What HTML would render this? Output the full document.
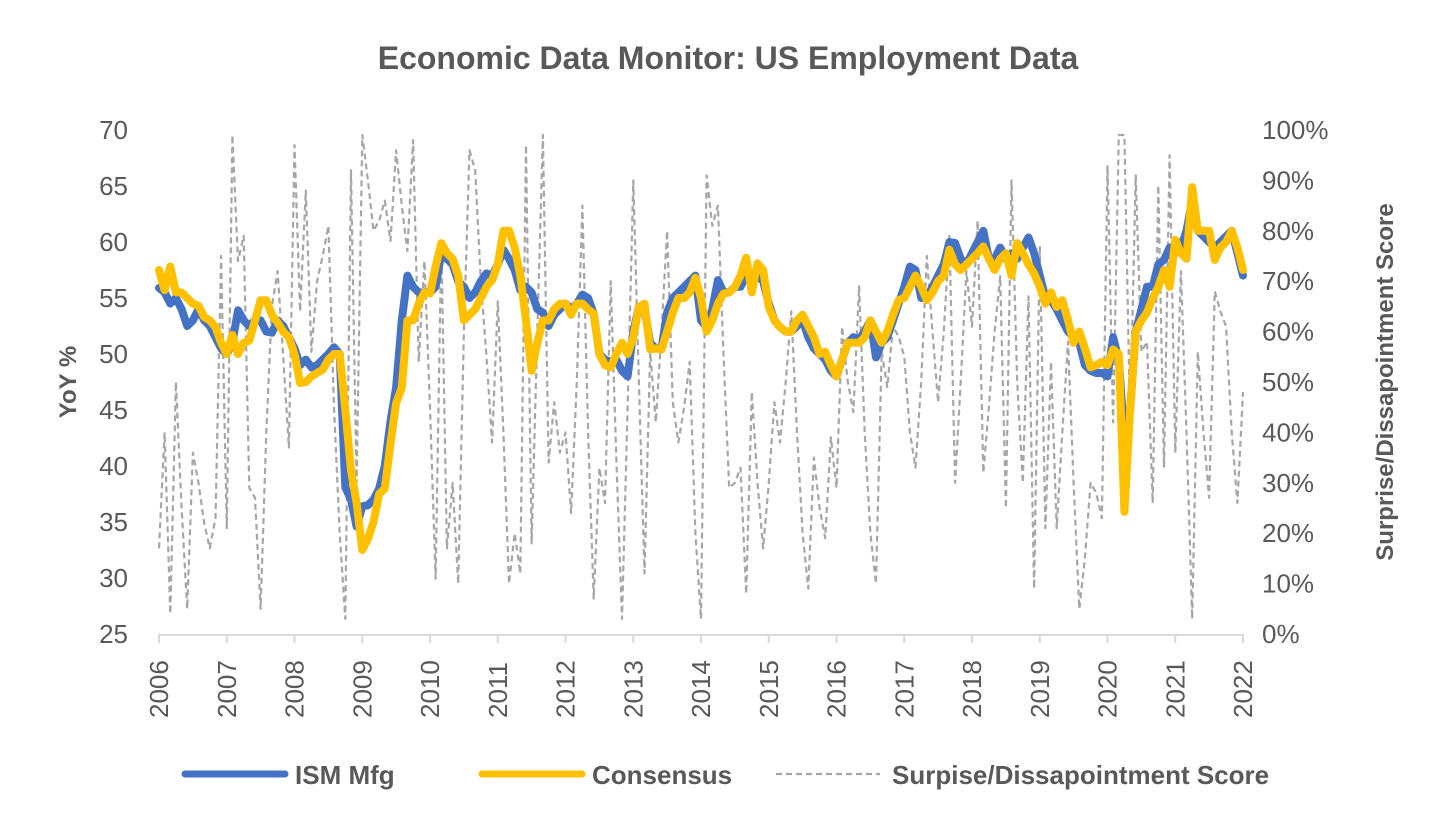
<!DOCTYPE html>
<html><head><meta charset="utf-8">
<style>
body{margin:0;background:#fff;}
svg text{font-family:"Liberation Sans",sans-serif;fill:#595959;}
</style></head>
<body>
<svg id="chart" width="1456" height="829" viewBox="0 0 1456 829" xmlns="http://www.w3.org/2000/svg">
<rect width="1456" height="829" fill="#fff"/>
<text x="728" y="69" text-anchor="middle" font-size="32" font-weight="bold">Economic Data Monitor: US Employment Data</text>
<g id="axes"></g>
<g id="series"></g>
<text transform="translate(76,382) rotate(-90)" text-anchor="middle" font-size="24" font-weight="bold">YoY %</text>
<text transform="translate(1393,382) rotate(-90)" text-anchor="middle" font-size="24" font-weight="bold">Surprise/Dissapointment Score</text>
<g>
  <g>
    <line x1="185" y1="774" x2="285" y2="774" stroke="#4472c4" stroke-width="7" stroke-linecap="round"/>
    <text x="295" y="784" font-size="26" font-weight="bold">ISM Mfg</text>
  </g>
  <g>
    <line x1="482" y1="774" x2="582" y2="774" stroke="#ffc000" stroke-width="7" stroke-linecap="round"/>
    <text x="592" y="784" font-size="26" font-weight="bold">Consensus</text>
  </g>
  <g>
    <line x1="776" y1="774" x2="880" y2="774" stroke="#a6a6a6" stroke-width="2.2" stroke-dasharray="6,4"/>
    <text x="892" y="784" font-size="26" font-weight="bold">Surpise/Dissapointment Score</text>
  </g>
</g>
</svg>
<script>
const years = [2006,2007,2008,2009,2010,2011,2012,2013,2014,2015,2016,2017,2018,2019,2020,2021,2022];
const leftTicks = [25,30,35,40,45,50,55,60,65,70];
const rightTicks = [0,10,20,30,40,50,60,70,80,90,100];
const ismValues = [
55.9,55.5,54.5,55,54,52.5,53,54,53,52.5,51.5,50.5,
50,51,53.9,53,52.5,53,53,52,51.9,53,52.5,51.5,
50.5,49,49.5,48.8,49,49.5,50,50.6,50,38.1,37,34.6,
36.4,36.5,37,38,40,44,47,53,57,56,55.5,55.5,
55.5,56,59,58.5,58,56.5,56,55,55.5,56.5,57.2,57,
58,59.3,58.5,57.5,55.7,56,55.5,54,53.7,52.5,53.5,54,
54.5,54,54.5,55.3,55,53.6,50,49.5,49.3,49.5,48.5,48,
52,54.2,54,51,50.5,50.5,53.7,55,55.5,56,56.5,57,
53,52.4,54,56.6,55.5,55.5,56,56,57,56.5,57,56.5,
54.5,53,52.4,52,52,52.5,53,51.5,50.5,50,49.5,48.5,
48,49.5,51,51.5,51.3,52,53,49.7,51,51.5,53,54.5,
56,57.8,57.5,55,55,56,57,58,60,59.9,58.5,58,
59,60,61,58.5,58.5,59.5,58.5,59,58.5,59.5,60.4,59,
57,55,54.8,54,53,52,51.5,51,49,48.5,48.3,48.3,
48,51.5,49.5,42.3,45,52,54,56,56,58,58.4,59.5,
59,59.5,61,63.75,61,60.5,60,59.5,60,60.5,61,59,
57];
const consensusValues = [
57.5,55.7,57.8,55.5,55.5,55,54.5,54.3,53.3,53,52.4,51,
50,51.7,50,51,51.2,53,54.8,54.8,53.5,52.8,52,51.5,
50,47.4,47.5,48,48.3,48.6,49.5,50,50,45,39.6,36.7,
32.5,33.5,35,37.5,38,42,45.6,47,53,53,54.5,55.5,
55.4,57.8,59.9,59,58.5,57,53,53.5,54,55,56,56.6,
58,61,61,59.5,57,53,48.5,51,53,53,54,54.5,
54.5,53.5,54.5,54.5,54,53.6,50,49,48.8,50,51,50,
51.5,54.2,54.5,50.4,50.5,50.4,52,53.7,55,55,55.5,56.8,
55,52,53,54.5,55.4,55.5,56,57,58.6,55.5,58.1,57.5,
54.2,53,52.4,52,52,53,53.5,52.5,51.5,50,50.2,49,
48,49.5,51,51,51,51.5,53,52,51,52,53.5,54.8,
55,56,57,56,54.8,55.5,56.5,57,59.3,58,57.5,58,
58.5,59,59.6,58.5,57.5,58.5,59,57,59.9,59,58,57.2,
56,54.5,55.5,54.2,54.8,53,51,52,50.5,48.8,49,49.3,
49,50.4,50,35.9,45,52,53,53.7,55,56,57.5,56,
60.2,59,58.5,64.9,61,61,61,58.4,59.5,60,61,59.5,
57.5];
const scoreValues = [
17,40,4,50,25,5,36,30,22,17,23,75,
21,99,74,79,29,27,5,40,65,72,55,37,
97,64,88,56,70,75,81,45,20,3,92,30,
99,90,80,82,86,78,96,85,76,98,54,74,
45,11,78,17,30,10,60,96,92,70,55,38,
66,40,10,20,12,97,18,60,99,34,46,36,
40,24,50,85,40,7,33,26,70,35,3,45,
90,50,12,56,42,60,80,46,38,45,54,20,
3,91,81,85,55,29,30,33,8,48,30,17,
30,46,38,50,64,40,20,9,35,25,19,39,
29,61,50,44,69,40,20,10,56,49,61,59,
55,40,33,50,75,60,46,60,79,30,50,72,
61,82,32,45,60,71,25,90,50,30,67,9,
77,21,54,21,40,58,30,5,15,30,28,23,
93,42,99,99,42,91,56,58,26,89,33,95,
36,72,40,3,56,40,27,68,64,61,40,26,
48];

const NS = "http://www.w3.org/2000/svg";
const X0 = 159, X1 = 1243, YT = 130, YB = 634;
function xMonth(m){ return X0 + (X1 - X0) * m / 192; }
function xYear(y){ return X0 + (X1 - X0) * (y - 2006) / 16; }
function yLeft(v){ return YB - (v - 25) / 45 * (YB - YT); }
function yRight(p){ return YB - p / 100 * (YB - YT); }
function mk(tag, attrs){ const e = document.createElementNS(NS, tag); for (const k in attrs) e.setAttribute(k, attrs[k]); return e; }

const axes = document.getElementById('axes');
const base = mk('line', {x1: X0, y1: YB + 1, x2: X1, y2: YB + 1, stroke: '#d9d9d9', 'stroke-width': 2});


axes.appendChild(base);
years.forEach(y => {
  const x = xYear(y);
  const t = mk('line', {x1: x, y1: YB, x2: x, y2: YB + 9, stroke: '#d9d9d9', 'stroke-width': 2});
  
  
  axes.appendChild(t);
  const l = mk('text', {transform: `translate(${x + 9},${YB + 84}) rotate(-90)`, 'font-size': 26});
  l.textContent = y;
  
  
  axes.appendChild(l);
});
leftTicks.forEach(v => {
  const l = mk('text', {x: 128, y: yLeft(v) + 9, 'text-anchor': 'end', 'font-size': 26});
  l.textContent = v;
  
  
  axes.appendChild(l);
});
rightTicks.forEach(v => {
  const l = mk('text', {x: 1262, y: yRight(v) + 9, 'font-size': 26});
  l.textContent = v + '%';
  
  
  axes.appendChild(l);
});

const series = document.getElementById('series');
function pathFrom(vals, yf){ return vals.map((v, i) => (i ? 'L' : 'M') + xMonth(i).toFixed(1) + ',' + yf(v).toFixed(1)).join(''); }
const sp = mk('path', {d: pathFrom(scoreValues, yRight), fill: 'none', stroke: '#a6a6a6', 'stroke-width': 2.2, 'stroke-dasharray': '6,4', 'stroke-linejoin': 'round'});


series.appendChild(sp);
const ip = mk('path', {d: pathFrom(ismValues, yLeft), fill: 'none', stroke: '#4472c4', 'stroke-width': 8, 'stroke-linejoin': 'round', 'stroke-linecap': 'round'});


series.appendChild(ip);
const cp = mk('path', {d: pathFrom(consensusValues, yLeft), fill: 'none', stroke: '#ffc000', 'stroke-width': 8, 'stroke-linejoin': 'round', 'stroke-linecap': 'round'});


series.appendChild(cp);
</script>
</body></html>
